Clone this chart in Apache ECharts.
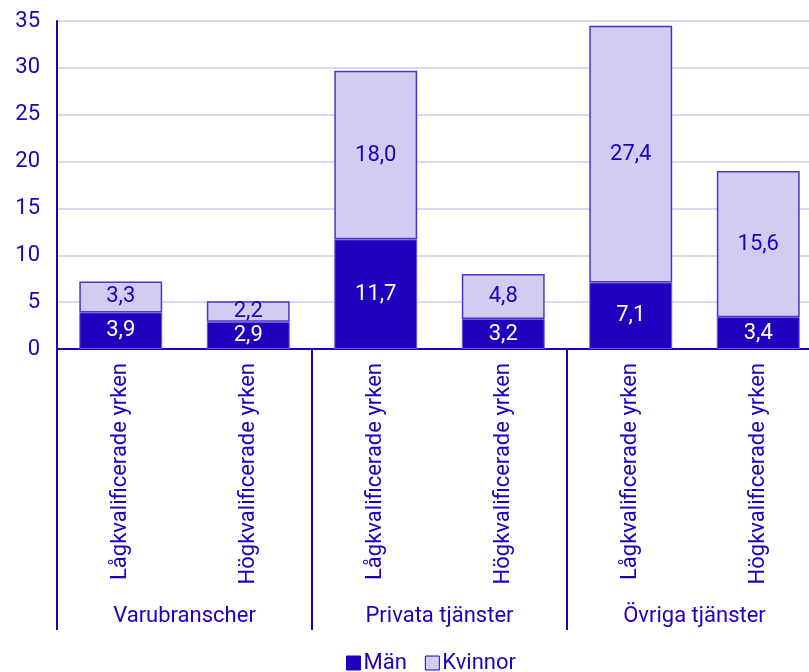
<!DOCTYPE html>
<html>
<head>
<meta charset="utf-8">
<script src="https://cdn.jsdelivr.net/npm/echarts@6/dist/echarts.min.js"></script>
<style>
  html, body { margin: 0; padding: 0; background: #fff; }
  #chart { width: 809px; height: 672px; }
</style>
</head>
<body>
<div id="chart"></div>
<script>
const occupations = ['Lågkvalificerade yrken', 'Högkvalificerade yrken',
  'Lågkvalificerade yrken', 'Högkvalificerade yrken',
  'Lågkvalificerade yrken', 'Högkvalificerade yrken']
const sectors = ['Varubranscher', 'Privata tjänster', 'Övriga tjänster']
const men = [3.9, 2.9, 11.7, 3.2, 7.1, 3.4]
const women = [3.3, 2.2, 18.0, 4.8, 27.4, 15.6]

const dark = '#1e00be'
const light = '#d2ccf0'
const font = 'Roboto'
const fs = 22

const fmt = p => p.value.toFixed(1).replace('.', ',')

const chart = echarts.init(document.getElementById('chart'))
chart.setOption({
  animation: false,
  backgroundColor: '#fff',
  textStyle: { fontFamily: font },
  grid: { left: 57, width: 765, top: 21, height: 328, outerBoundsMode: 'none', containLabel: false },
  legend: {
    left: 341, bottom: -7,
    icon: 'rect', itemWidth: 14, itemHeight: 14, itemGap: 18,
    textStyle: { color: dark, fontSize: fs, fontFamily: font, padding: [0, 0, 0, -2] },
    data: [
      { name: 'Män', itemStyle: { color: dark, borderColor: dark, borderWidth: 1 } },
      { name: 'Kvinnor', itemStyle: { color: light, borderColor: dark, borderWidth: 1 } },
    ],
  },
  xAxis: [
    {
      type: 'category',
      data: occupations,
      axisLine: { lineStyle: { color: dark, width: 2 } },
      axisTick: { show: false },
      axisLabel: { rotate: 90, interval: 0, margin: 14, color: dark, fontSize: fs, fontFamily: font },
    },
    {
      type: 'category',
      position: 'bottom',
      data: sectors,
      axisLine: { show: false },
      axisTick: { show: true, length: 281, lineStyle: { color: dark, width: 2 } },
      axisLabel: { margin: 256, color: dark, fontSize: fs, fontFamily: font },
    },
  ],
  yAxis: {
    type: 'value',
    min: 0, max: 35, interval: 5,
    axisLine: { show: true, lineStyle: { color: dark, width: 2 } },
    axisTick: { show: false },
    axisLabel: { color: dark, fontSize: fs, fontFamily: font, margin: 17 },
    splitLine: { lineStyle: { color: '#dcd8f4', width: 2 } },
  },
  series: [
    {
      name: 'Män', type: 'bar', stack: 'a', barWidth: '65%',
      data: men,
      itemStyle: { color: dark, borderColor: '#6a58d8', borderWidth: 1 },
      label: { show: true, position: 'inside', color: '#fff', fontSize: fs, fontFamily: font, formatter: fmt },
    },
    {
      name: 'Kvinnor', type: 'bar', stack: 'a', barWidth: '65%',
      data: women,
      itemStyle: { color: light, borderColor: '#4a36cc', borderWidth: 1.5 },
      label: { show: true, position: 'inside', color: dark, fontSize: fs, fontFamily: font, formatter: fmt },
    },
  ],
})
</script>
</body>
</html>
